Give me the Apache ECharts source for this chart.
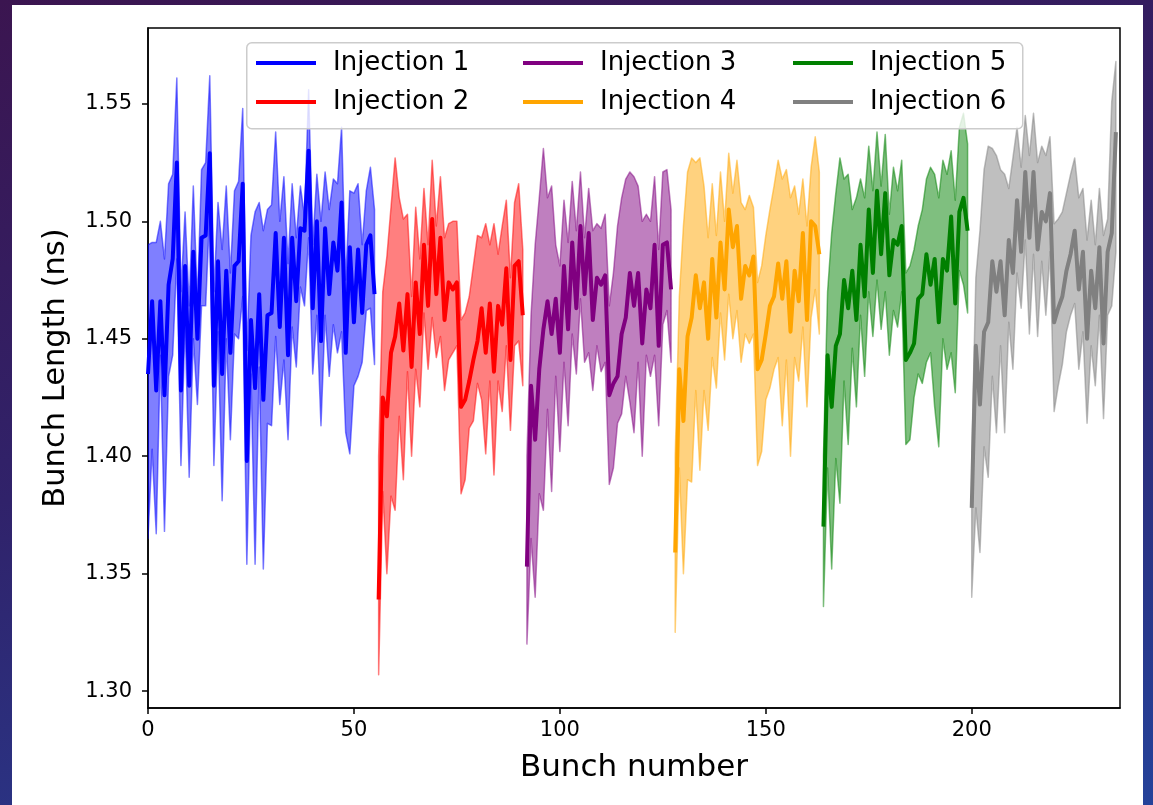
<!DOCTYPE html>
<html>
<head>
<meta charset="utf-8">
<script src="https://cdn.jsdelivr.net/npm/echarts@6/dist/echarts.min.js"></script>
<style>
html, body { margin: 0; padding: 0; width: 1153px; height: 805px; overflow: hidden; }
body { background: linear-gradient(165deg, #3b1550 0%, #30226a 45%, #25429a 100%); }
#panel { position: absolute; left: 12px; top: 5px; width: 1131px; height: 800px; background: #fff; }
</style>
</head>
<body>
<div id="panel"></div>
<script>
// first bunch of each injection
const bunchStart = [0, 56, 92, 128, 164, 200]
const names = ['Injection 1', 'Injection 2', 'Injection 3', 'Injection 4', 'Injection 5', 'Injection 6']
const colors = ['#0000ff', '#ff0000', '#800080', '#ffa500', '#008000', '#808080']
const fills = ['rgba(0,0,255,0.5)', 'rgba(255,0,0,0.5)', 'rgba(128,0,128,0.5)', 'rgba(255,165,0,0.5)', 'rgba(0,128,0,0.5)', 'rgba(128,128,128,0.5)']
const xTicks = [0, 50, 100, 150, 200]
const yTicks = [1.30, 1.35, 1.40, 1.45, 1.50, 1.55]

// injection 1 (bunch 0-55)
const mean1 = [1.435,1.466,1.428,1.466,1.426,1.473,1.484,1.525,1.428,1.481,
  1.430,1.487,1.450,1.493,1.494,1.529,1.430,1.483,1.435,1.479,
  1.444,1.481,1.483,1.516,1.398,1.458,1.429,1.469,1.424,1.460,
  1.461,1.495,1.455,1.493,1.443,1.493,1.466,1.497,1.496,1.530,
  1.463,1.500,1.449,1.497,1.469,1.491,1.479,1.508,1.444,1.489,
  1.457,1.488,1.461,1.490,1.494,1.469]
const upper1 = [1.490,1.491,1.491,1.500,1.484,1.516,1.520,1.561,1.470,1.504,
  1.464,1.515,1.466,1.522,1.525,1.562,1.470,1.508,1.488,1.515,
  1.478,1.513,1.517,1.548,1.445,1.494,1.504,1.508,1.496,1.505,
  1.507,1.538,1.500,1.519,1.482,1.516,1.493,1.515,1.502,1.556,
  1.490,1.520,1.500,1.521,1.505,1.518,1.516,1.540,1.475,1.513,
  1.512,1.516,1.490,1.513,1.523,1.505]
const lower1 = [1.365,1.403,1.367,1.443,1.368,1.434,1.443,1.484,1.396,1.456,
  1.391,1.450,1.422,1.464,1.464,1.505,1.396,1.453,1.381,1.450,
  1.407,1.452,1.450,1.468,1.354,1.435,1.354,1.438,1.352,1.414,
  1.413,1.451,1.422,1.441,1.407,1.455,1.438,1.472,1.464,1.493,
  1.435,1.460,1.413,1.460,1.434,1.456,1.444,1.453,1.410,1.401,
  1.430,1.434,1.440,1.462,1.463,1.439]

// injection 2 (bunch 56-91)
const mean2 = [1.339,1.425,1.417,1.444,1.451,1.465,1.445,1.469,1.438,1.474,
  1.452,1.490,1.464,1.501,1.469,1.493,1.458,1.474,1.471,1.474,
  1.421,1.424,1.432,1.441,1.449,1.463,1.444,1.465,1.436,1.464,
  1.456,1.480,1.441,1.481,1.483,1.460]
const upper2 = [1.400,1.470,1.485,1.506,1.527,1.510,1.501,1.503,1.468,1.506,
  1.484,1.514,1.490,1.526,1.498,1.519,1.493,1.499,1.500,1.500,
  1.458,1.461,1.468,1.481,1.494,1.493,1.499,1.490,1.499,1.486,
  1.498,1.509,1.476,1.508,1.516,1.488]
const lower2 = [1.307,1.385,1.350,1.383,1.377,1.417,1.390,1.436,1.400,1.437,
  1.421,1.461,1.437,1.459,1.442,1.451,1.428,1.441,1.444,1.447,
  1.384,1.390,1.412,1.415,1.431,1.424,1.401,1.432,1.392,1.432,
  1.419,1.447,1.411,1.447,1.449,1.430]

// injection 3 (bunch 92-127)
const mean3 = [1.353,1.430,1.407,1.437,1.454,1.466,1.452,1.467,1.444,1.481,
  1.454,1.491,1.463,1.498,1.469,1.495,1.458,1.476,1.473,1.477,
  1.426,1.431,1.434,1.452,1.459,1.478,1.464,1.478,1.448,1.471,
  1.463,1.490,1.447,1.490,1.491,1.471]
const upper3 = [1.400,1.460,1.490,1.510,1.531,1.510,1.515,1.490,1.481,1.509,
  1.491,1.517,1.496,1.521,1.493,1.514,1.496,1.499,1.497,1.503,
  1.464,1.478,1.498,1.510,1.518,1.521,1.519,1.515,1.500,1.503,
  1.500,1.519,1.488,1.521,1.522,1.505]
const lower3 = [1.320,1.365,1.340,1.384,1.377,1.420,1.385,1.434,1.402,1.440,
  1.413,1.452,1.435,1.467,1.440,1.444,1.428,1.447,1.436,1.440,
  1.388,1.395,1.414,1.418,1.434,1.423,1.410,1.440,1.400,1.443,
  1.434,1.443,1.413,1.456,1.462,1.440]

// injection 4 (bunch 128-163)
const mean4 = [1.359,1.437,1.415,1.451,1.459,1.477,1.463,1.474,1.450,1.484,
  1.459,1.491,1.471,1.505,1.489,1.498,1.467,1.481,1.477,1.485,
  1.437,1.441,1.452,1.464,1.468,1.482,1.467,1.483,1.453,1.479,
  1.466,1.495,1.458,1.500,1.498,1.486]
const upper4 = [1.400,1.468,1.498,1.521,1.527,1.525,1.527,1.515,1.493,1.516,
  1.494,1.521,1.500,1.529,1.512,1.526,1.508,1.505,1.511,1.506,
  1.474,1.481,1.494,1.505,1.515,1.526,1.518,1.522,1.510,1.515,
  1.503,1.518,1.498,1.523,1.536,1.521]
const lower4 = [1.325,1.395,1.350,1.390,1.389,1.428,1.394,1.428,1.411,1.442,
  1.429,1.461,1.441,1.469,1.450,1.462,1.440,1.452,1.448,1.452,
  1.396,1.402,1.424,1.429,1.437,1.442,1.413,1.441,1.400,1.442,
  1.432,1.455,1.421,1.459,1.471,1.452]

// injection 5 (bunch 164-199)
const mean5 = [1.370,1.443,1.421,1.447,1.452,1.475,1.463,1.479,1.458,1.490,
  1.468,1.505,1.478,1.513,1.486,1.512,1.477,1.492,1.490,1.498,
  1.441,1.444,1.448,1.467,1.469,1.486,1.473,1.484,1.457,1.484,
  1.479,1.502,1.465,1.504,1.510,1.496]
const upper5 = [1.400,1.470,1.495,1.512,1.527,1.518,1.520,1.505,1.510,1.518,
  1.510,1.532,1.513,1.538,1.515,1.537,1.503,1.523,1.513,1.526,
  1.478,1.481,1.488,1.498,1.505,1.518,1.523,1.520,1.510,1.526,
  1.520,1.530,1.509,1.540,1.546,1.533]
const lower5 = [1.336,1.395,1.352,1.399,1.380,1.432,1.405,1.446,1.421,1.460,
  1.434,1.470,1.451,1.475,1.454,1.470,1.443,1.462,1.455,1.470,
  1.405,1.407,1.425,1.435,1.431,1.440,1.444,1.421,1.404,1.450,
  1.437,1.444,1.427,1.479,1.473,1.461]

// injection 6 (bunch 200-235)
const mean6 = [1.378,1.447,1.422,1.453,1.457,1.483,1.470,1.483,1.460,1.492,
  1.478,1.509,1.487,1.521,1.493,1.521,1.488,1.504,1.500,1.512,
  1.457,1.463,1.468,1.479,1.486,1.496,1.471,1.487,1.450,1.479,
  1.463,1.489,1.448,1.487,1.495,1.538]
const upper6 = [1.400,1.476,1.496,1.522,1.532,1.531,1.528,1.522,1.520,1.514,
  1.527,1.540,1.523,1.545,1.528,1.546,1.525,1.532,1.528,1.536,
  1.499,1.501,1.504,1.512,1.520,1.527,1.510,1.514,1.492,1.509,
  1.490,1.514,1.494,1.501,1.551,1.568]
const lower6 = [1.340,1.378,1.359,1.404,1.391,1.434,1.410,1.447,1.410,1.457,
  1.437,1.478,1.463,1.492,1.452,1.486,1.451,1.483,1.460,1.487,
  1.419,1.430,1.439,1.453,1.460,1.465,1.437,1.453,1.414,1.447,
  1.430,1.460,1.416,1.460,1.464,1.487]

const means = [mean1, mean2, mean3, mean4, mean5, mean6]
const uppers = [upper1, upper2, upper3, upper4, upper5, upper6]
const lowers = [lower1, lower2, lower3, lower4, lower5, lower6]

const font = 'DejaVu Sans'
const chart = echarts.init(document.getElementById('panel'))

// shaded band between lower and upper, drawn once per injection
const bandRender = k => (params, api) => {
  if (params.dataIndex !== 0) return null
  const x0 = bunchStart[k]
  const pts = []
  uppers[k].forEach((v, i) => pts.push(api.coord([x0 + i, v])))
  for (let i = lowers[k].length - 1; i >= 0; i--) pts.push(api.coord([x0 + i, lowers[k][i]]))
  return {
    type: 'polygon', shape: { points: pts },
    style: { fill: fills[k], stroke: fills[k], lineWidth: 1.5, lineJoin: 'round' }
  }
}

const series = []
means.forEach((m, k) => {
  const x0 = bunchStart[k]
  series.push({
    name: 'band' + k, type: 'custom', z: 2, clip: true,
    renderItem: bandRender(k),
    encode: { x: 0, y: [1, 2] },
    data: uppers[k].map((v, i) => [x0 + i, lowers[k][i], v])
  })
  series.push({
    name: names[k], type: 'line', symbol: 'none', showSymbol: false, z: 3, color: colors[k],
    data: m.map((v, i) => [x0 + i, v]),
    lineStyle: { color: colors[k], width: 4, join: 'round' }
  })
})

const legendCols = [[0, 1], [2, 3], [4, 5]]
const legendLeft = [244, 511, 781]

const option = {
  animation: false,
  grid: { left: 136, top: 23, width: 972, height: 680, show: true, borderColor: '#000', borderWidth: 1.5 },
  xAxis: {
    type: 'value', min: 0, max: 236,
    name: 'Bunch number', nameLocation: 'middle', nameGap: 44,
    nameTextStyle: { fontFamily: font, fontSize: 31, color: '#000' },
    axisLine: { show: true, lineStyle: { color: '#000', width: 1.5 } },
    axisTick: { show: true, length: 6, lineStyle: { color: '#000', width: 1.5 }, customValues: xTicks },
    axisLabel: { fontFamily: font, fontSize: 21, color: '#000', margin: 12, customValues: xTicks },
    splitLine: { show: false }
  },
  yAxis: {
    type: 'value', min: 1.2928, max: 1.5823,
    name: 'Bunch Length (ns)', nameLocation: 'middle', nameGap: 76,
    nameTextStyle: { fontFamily: font, fontSize: 30.5, color: '#000' },
    axisLine: { show: true, lineStyle: { color: '#000', width: 1.5 } },
    axisTick: { show: true, length: 6, lineStyle: { color: '#000', width: 1.5 }, customValues: yTicks },
    axisLabel: { fontFamily: font, fontSize: 21, color: '#000', margin: 16, customValues: yTicks, formatter: v => v.toFixed(2) },
    splitLine: { show: false }
  },
  graphic: [{
    type: 'rect', left: 234, top: 37, z: 8,
    shape: { width: 776, height: 86, r: 5 },
    style: { fill: 'rgba(255,255,255,0.8)', stroke: '#cccccc', lineWidth: 1.5 }
  }],
  legend: legendCols.map((col, c) => ({
    data: col.map(i => names[i]), orient: 'vertical', left: legendLeft[c], top: 43, z: 10,
    itemWidth: 60, itemHeight: 4, itemGap: 9, icon: 'rect', padding: 0, selectedMode: false,
    textStyle: { fontFamily: font, fontSize: 26, color: '#000', lineHeight: 30, padding: [0, 0, 0, 12] }
  })),
  series: series
}
chart.setOption(option)
</script>
</body>
</html>
